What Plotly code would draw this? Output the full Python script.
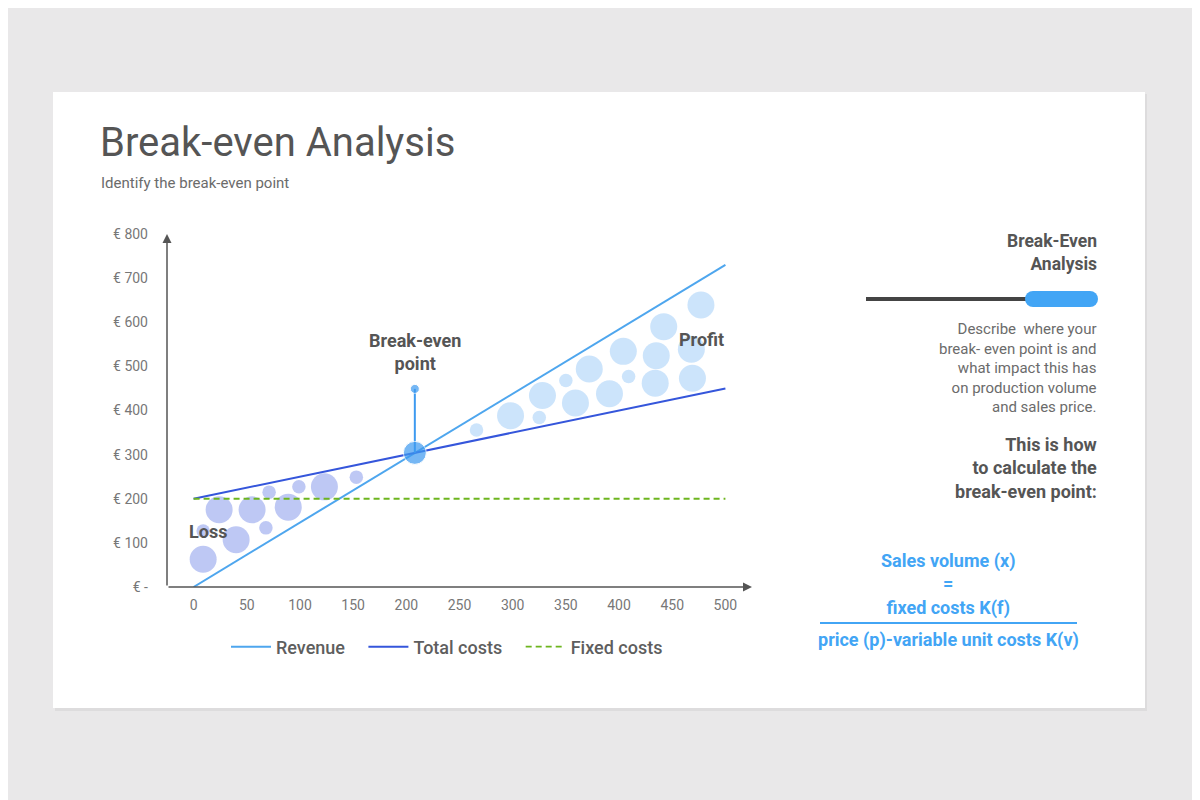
import plotly.graph_objects as go

# line data
volume = [0, 500]
revenue = [0, 730]
total_costs = [200, 450]
fixed_costs = [200, 200]

break_even_x = 208
break_even_y = 304
break_even_label_y = 449

# bubbles in the loss area
loss_x = [9, 24, 9, 40, 55, 68, 71, 89, 99, 123, 153]
loss_y = [63, 175, 127, 107, 175, 134, 215, 181, 227, 227, 249]
loss_w = [2, 2, 1, 2, 2, 1, 1, 2, 1, 2, 1]

# bubbles in the profit area
profit_x = [266, 298, 325, 328, 350, 359, 372, 391, 404, 409, 435, 434, 442, 468, 469, 477]
profit_y = [356, 388, 384, 434, 468, 417, 494, 438, 534, 477, 524, 462, 590, 539, 473, 639]
profit_w = [1, 2, 1, 2, 1, 2, 2, 2, 2, 1, 2, 2, 2, 2, 2, 2]

x_ticks = [0, 50, 100, 150, 200, 250, 300, 350, 400, 450, 500]
y_ticks = [0, 100, 200, 300, 400, 500, 600, 700, 800]
y_tick_text = ["€ -", "€ 100", "€ 200", "€ 300", "€ 400", "€ 500", "€ 600", "€ 700", "€ 800"]

FONT = "Roboto"
DARK = "#555555"
MID = "#6b6b6b"
BLUE = "#42a5f5"

# the page puts the figure 8px in from the corner
OFF = 8
# plot area, in page pixels
L, R, T, B = 167, 752, 234, 587

# a little room after each legend entry
GAP = "\u00a0" * 3


def px(x):
    return (x - L) / (R - L)


def py(y):
    return (B - y) / (B - T)


fig = go.Figure()

fig.add_trace(go.Scatter(
    x=loss_x, y=loss_y, mode="markers", showlegend=False, hoverinfo="skip",
    marker=dict(size=[w * 13.5 for w in loss_w], color="rgb(163,177,240)", line=dict(width=0)),
))
fig.add_trace(go.Scatter(
    x=profit_x, y=profit_y, mode="markers", showlegend=False, hoverinfo="skip",
    marker=dict(size=[w * 13.5 for w in profit_w], color="rgb(183,216,250)", line=dict(width=0)),
))

fig.add_trace(go.Scatter(x=volume, y=revenue, mode="lines", name="Revenue" + GAP,
                         line=dict(color="#4ea6ee", width=2)))
fig.add_trace(go.Scatter(x=volume, y=total_costs, mode="lines", name="Total costs" + GAP,
                         line=dict(color="#3556db", width=2)))
fig.add_trace(go.Scatter(x=volume, y=fixed_costs, mode="lines", name="Fixed costs",
                         line=dict(color="#6db51f", width=1.8, dash="6px,4px")))

# break-even marker with stem
fig.add_trace(go.Scatter(
    x=[break_even_x, break_even_x], y=[break_even_y, break_even_label_y],
    mode="lines+markers", showlegend=False, hoverinfo="skip",
    line=dict(color="#3d9af0", width=2),
    marker=dict(size=[23, 9], color="#3d9af0"),
))


def paper_box(x0, x1, y0, y1):
    return dict(xref="paper", yref="paper", x0=px(x0), x1=px(x1), y0=py(y0), y1=py(y1))


shapes = [
    # card
    dict(type="rect", fillcolor="rgba(0,0,0,0.05)", line=dict(width=0), layer="below",
         **paper_box(55, 1147, 94, 711)),
    dict(type="rect", fillcolor="white", line=dict(width=0), layer="below",
         **paper_box(53, 1145, 92, 708)),
    # slider
    dict(type="line", line=dict(color="#444444", width=4), **paper_box(866, 1030, 299, 299)),
    dict(type="rect", fillcolor=BLUE, line=dict(width=0), **paper_box(1033, 1090, 291, 307)),
    dict(type="circle", fillcolor=BLUE, line=dict(width=0), **paper_box(1025, 1041, 291, 307)),
    dict(type="circle", fillcolor=BLUE, line=dict(width=0), **paper_box(1082, 1098, 291, 307)),
    # fraction line
    dict(type="line", line=dict(color=BLUE, width=2), **paper_box(820, 1077, 623, 623)),
]


def text_at(x, y, text, size, color, xanchor="center", align="center"):
    return dict(x=px(x), y=py(y), xref="paper", yref="paper", xanchor=xanchor, yanchor="middle",
                align=align, showarrow=False, text=text,
                font=dict(family=FONT, size=size, color=color))


annotations = [
    # axes with arrows
    dict(x=-25, y=800, ax=-25, ay=0, xref="x", yref="y", axref="x", ayref="y", text="",
         showarrow=True, arrowhead=2, arrowsize=1.2, arrowwidth=1.5, arrowcolor=DARK),
    dict(x=525, y=0, ax=-25, ay=0, xref="x", yref="y", axref="x", ayref="y", text="",
         showarrow=True, arrowhead=2, arrowsize=1.2, arrowwidth=1.5, arrowcolor=DARK),
    # title
    text_at(98, 142, "Break-even Analysis", 40, DARK, xanchor="left", align="left"),
    text_at(99, 183, "Identify the break-even point", 15, MID, xanchor="left", align="left"),
    # chart labels
    dict(x=break_even_x, y=break_even_label_y, xref="x", yref="y", yshift=37, showarrow=False,
         xanchor="center", yanchor="middle",
         text="<b>Break-even<br>point</b>", font=dict(family=FONT, size=18, color=DARK)),
    text_at(208, 531, "<b>Loss</b>", 18, DARK),
    text_at(701, 339, "<b>Profit</b>", 18, DARK),
    # right panel
    text_at(1099, 253, "<b>Break-Even<br>Analysis</b>", 17.5, DARK, xanchor="right", align="right"),
    text_at(1099, 368,
            "Describe  where your<br>break- even point is and<br>what impact this has"
            "<br>on production volume<br>and sales price.",
            15, MID, xanchor="right", align="right"),
    text_at(1099, 468, "<b>This is how<br>to calculate the<br>break-even point:</b>",
            18, DARK, xanchor="right", align="right"),
    text_at(948, 584, "<b>Sales volume (x)<br>=<br>fixed costs K(f)</b>", 18, BLUE),
    text_at(948, 640, "<b>price (p)-variable unit costs K(v)</b>", 18, BLUE),
]

fig.update_layout(
    width=1200,
    height=800,
    margin=dict(l=L - OFF, r=1200 - R + OFF, t=T - OFF, b=800 - B + OFF, autoexpand=False),
    paper_bgcolor="#e9e8e9",
    plot_bgcolor="rgba(0,0,0,0)",
    font=dict(family=FONT, color=MID),
    shapes=shapes,
    annotations=annotations,
    legend=dict(orientation="h", x=px(447), xanchor="center", y=py(647), yanchor="middle",
                font=dict(family=FONT, size=18, color="#5e5e5e", weight=500),
                bgcolor="rgba(0,0,0,0)", itemwidth=40),
    xaxis=dict(range=[-25, 525], tickvals=x_ticks, showgrid=False, zeroline=False,
               showline=False, ticks="", ticklabelstandoff=8,
               tickfont=dict(family=FONT, size=14, color="#777777")),
    yaxis=dict(range=[0, 800], tickvals=y_ticks, ticktext=y_tick_text, showgrid=False,
               zeroline=False, showline=False, ticks="", ticklabelstandoff=18,
               tickfont=dict(family=FONT, size=14, color="#777777")),
)

fig.write_html("out.html")
